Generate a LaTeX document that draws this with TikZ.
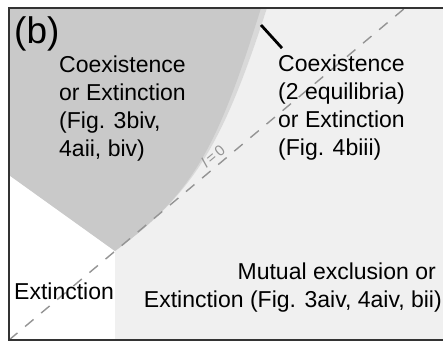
\documentclass[tikz,border=0pt]{standalone}
\usepackage{fontspec}
\setmainfont{Liberation Sans}
\begin{document}
\begin{tikzpicture}[x=1pt,y=-1pt,
  region/.style={font=\fontsize{23}{28}\selectfont, inner sep=0pt},
  frameline/.style={draw=black!80, line width=1.1pt},
  nullcline/.style={draw=black!42, line width=1.4pt, dash pattern=on 11pt off 10pt},
  leader/.style={draw=black, line width=2.8pt}]
\useasboundingbox (0,0) rectangle (443,345);
% background regions
\fill[white] (0,0) rectangle (443,345);
\fill[black!6] (115,340) -- (115,251) .. controls (194,193) and (223,144.5) .. (267,8)
  -- (443,8) -- (443,340) -- cycle;
% thin band along the upper boundary
\fill[black!15] (9,8) -- (9,175) -- (115,251) .. controls (194,193) and (223,144.5) .. (267,8) -- cycle;
\fill[black!21] (9,8) -- (9,175) -- (115,251) .. controls (194,193) and (218,146) .. (261,8) -- cycle;
% dashed line l = 0
\coordinate (d0) at (9,340);
\coordinate (d1) at (405,8);
\path[nullcline] (d0) -- (d1);
\node[text=black!42, font=\fontsize{15}{15}\selectfont, rotate=40, inner sep=0pt] (lab) at (213,156) {{\itshape l}\,=\,0};
% frame
\draw[frameline] (443,8) -- (9,8) -- (9,340) -- (443,340);
% labels
\node[font=\fontsize{37}{37}\selectfont, anchor=base west, inner sep=0pt] (b) at (14,44) {(b)};
\foreach \t [count=\i] in {Coexistence, or Extinction, {(Fig. 3biv,}, {4aii, biv)}}
  \node[region, anchor=base west] (coexA\i) at (59,44+28*\i) {\t};
\foreach \t [count=\i] in {Coexistence, (2 equilibria), or Extinction, (Fig. 4biii)}
  \node[region, anchor=base west] (coexB\i) at (278,43+28*\i) {\t};
\node[region, anchor=base west] (ext) at (14,299) {Extinction};
\node[region, anchor=base east] (mut1) at (436,279) {Mutual exclusion or};
\node[region, anchor=base east] (mut2) at (442,307) {Extinction (Fig. 3aiv, 4aiv, bii)};
% leader from the boundary band to its label
\coordinate (tip) at (261,25);
\draw[leader] (tip) -- ([shift={(4,-6)}]coexB1.north west);
\end{tikzpicture}
\end{document}
